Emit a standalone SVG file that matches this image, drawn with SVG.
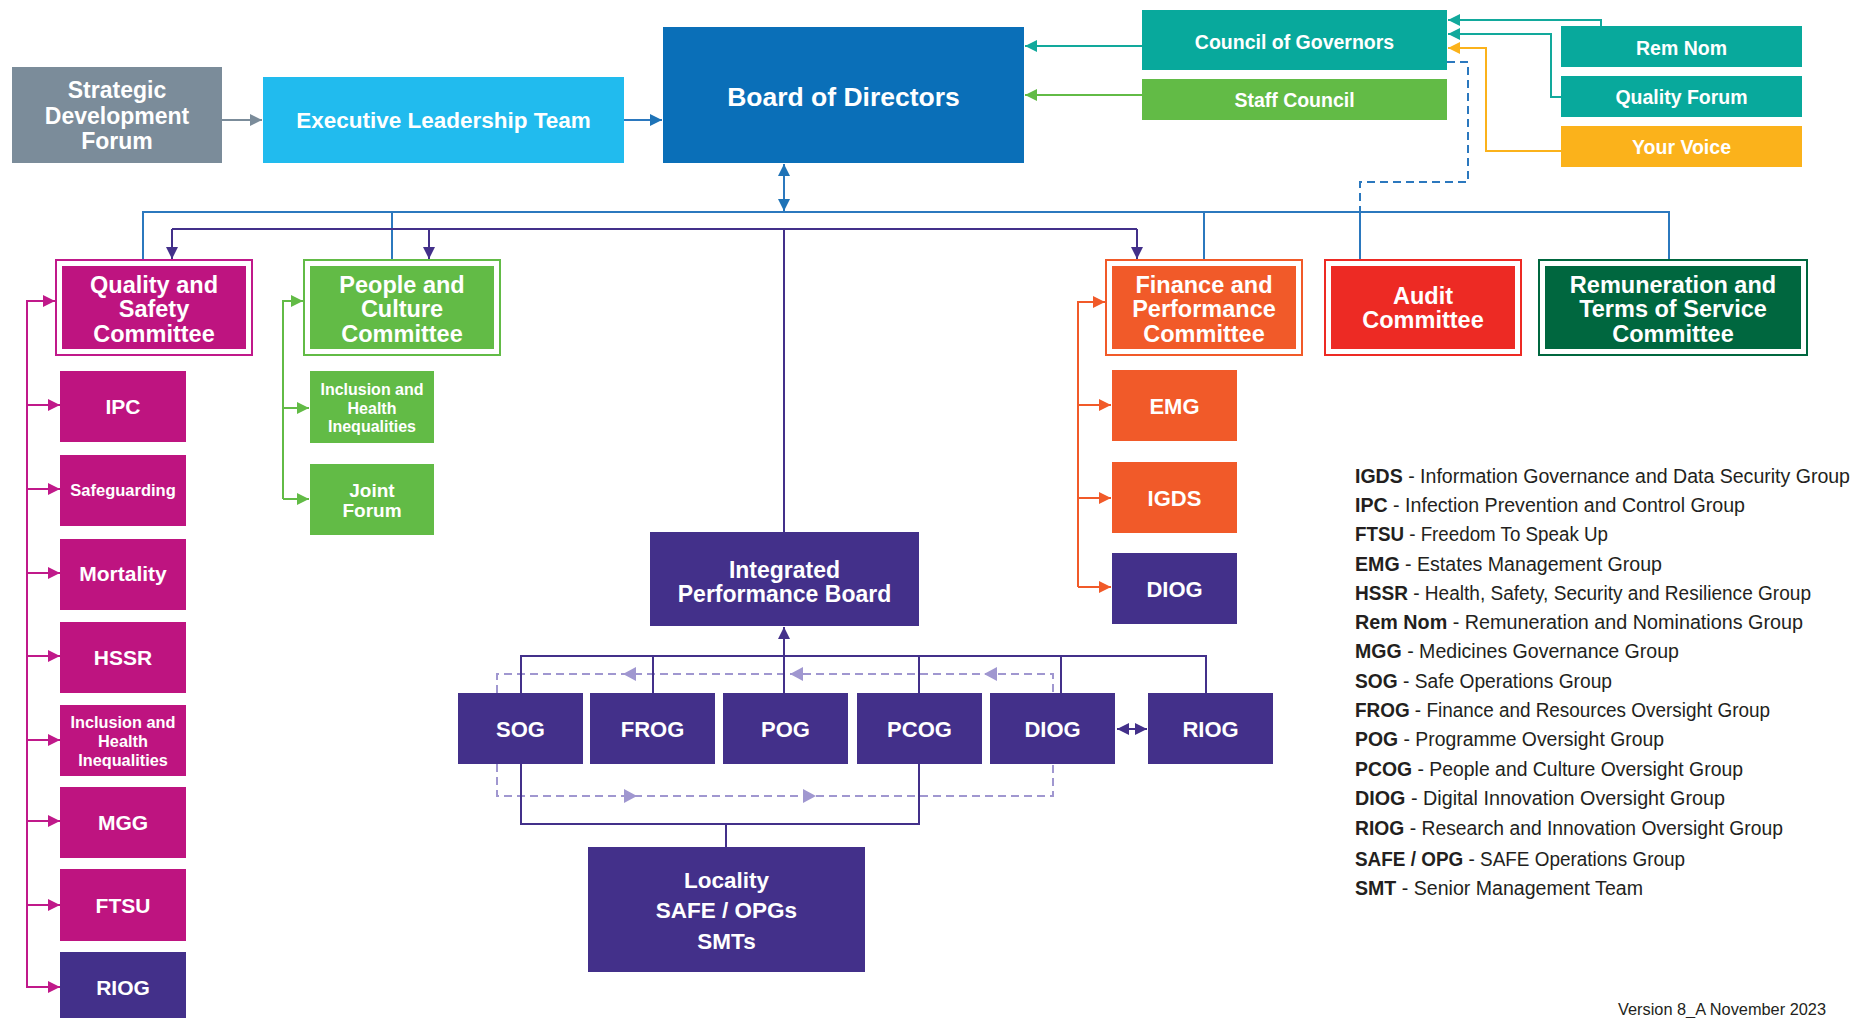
<svg xmlns="http://www.w3.org/2000/svg" width="1854" height="1018" viewBox="0 0 1854 1018">
<defs>
<style>
text{font-family:"Liberation Sans",Arial,sans-serif;}
.t{fill:#fff;font-weight:bold;text-anchor:middle;}
.lg{fill:#231f20;font-size:19.5px;}
.b{font-weight:bold;}
.ln{fill:none;stroke-width:2;}
.gray{stroke:#7b8c9a;}
.blue{stroke:#2b78be;}
.teal{stroke:#12a99c;}
.grn{stroke:#62bb46;}
.yel{stroke:#fbb21b;}
.mag{stroke:#c0198a;}
.org{stroke:#f15a29;}
.pur{stroke:#43308a;}
.dash{stroke:#a097d0;stroke-dasharray:8 5;}
.bdash{stroke:#2b78be;stroke-dasharray:8 5;}
</style>
<marker id="a-gray" viewBox="0 0 10 10" refX="10" refY="5" markerWidth="12" markerHeight="12" markerUnits="userSpaceOnUse" orient="auto-start-reverse"><path d="M0,0L10,5L0,10z" fill="#7b8c9a"/></marker>
<marker id="a-blue" viewBox="0 0 10 10" refX="10" refY="5" markerWidth="12" markerHeight="12" markerUnits="userSpaceOnUse" orient="auto-start-reverse"><path d="M0,0L10,5L0,10z" fill="#1f73b7"/></marker>
<marker id="a-teal" viewBox="0 0 10 10" refX="10" refY="5" markerWidth="12" markerHeight="12" markerUnits="userSpaceOnUse" orient="auto-start-reverse"><path d="M0,0L10,5L0,10z" fill="#12a99c"/></marker>
<marker id="a-grn" viewBox="0 0 10 10" refX="10" refY="5" markerWidth="12" markerHeight="12" markerUnits="userSpaceOnUse" orient="auto-start-reverse"><path d="M0,0L10,5L0,10z" fill="#62bb46"/></marker>
<marker id="a-yel" viewBox="0 0 10 10" refX="10" refY="5" markerWidth="12" markerHeight="12" markerUnits="userSpaceOnUse" orient="auto-start-reverse"><path d="M0,0L10,5L0,10z" fill="#fbb21b"/></marker>
<marker id="a-mag" viewBox="0 0 10 10" refX="10" refY="5" markerWidth="12" markerHeight="12" markerUnits="userSpaceOnUse" orient="auto-start-reverse"><path d="M0,0L10,5L0,10z" fill="#c0198a"/></marker>
<marker id="a-org" viewBox="0 0 10 10" refX="10" refY="5" markerWidth="12" markerHeight="12" markerUnits="userSpaceOnUse" orient="auto-start-reverse"><path d="M0,0L10,5L0,10z" fill="#f15a29"/></marker>
<marker id="a-pur" viewBox="0 0 10 10" refX="10" refY="5" markerWidth="12" markerHeight="12" markerUnits="userSpaceOnUse" orient="auto-start-reverse"><path d="M0,0L10,5L0,10z" fill="#43308a"/></marker>
</defs>
<rect width="1854" height="1018" fill="#fff"/>

<g id="connectors">
  <path class="ln gray" d="M222,120H262" marker-end="url(#a-gray)"/>
  <path class="ln blue" d="M624,120H662" marker-end="url(#a-blue)"/>
  <path class="ln teal" d="M1142,46H1025" marker-end="url(#a-teal)"/>
  <path class="ln grn" d="M1142,95H1025" marker-end="url(#a-grn)"/>
  <path class="ln teal" d="M1601,26V20H1448" marker-end="url(#a-teal)"/>
  <path class="ln teal" d="M1561,97H1551V34H1448" marker-end="url(#a-teal)"/>
  <path class="ln yel" d="M1561,151H1486V48H1448" marker-end="url(#a-yel)"/>
  <path class="ln bdash" d="M1447,62H1468V182H1360V212"/>
  <path class="ln blue" d="M143,260V212H1669V260M392,212V260M1204,212V260M1360,212V260"/>
  <path class="ln blue" d="M784,164V211" marker-start="url(#a-blue)" marker-end="url(#a-blue)"/>
  <path class="ln pur" d="M172,229H1137M784,229V532"/>
  <path class="ln pur" d="M172,229V259" marker-end="url(#a-pur)"/>
  <path class="ln pur" d="M429,229V259" marker-end="url(#a-pur)"/>
  <path class="ln pur" d="M1137,229V259" marker-end="url(#a-pur)"/>
  <path class="ln mag" d="M27,988V301H55" marker-end="url(#a-mag)"/>
  <path class="ln mag" d="M27,405H60" marker-end="url(#a-mag)"/>
  <path class="ln mag" d="M27,489H60" marker-end="url(#a-mag)"/>
  <path class="ln mag" d="M27,573H60" marker-end="url(#a-mag)"/>
  <path class="ln mag" d="M27,656H60" marker-end="url(#a-mag)"/>
  <path class="ln mag" d="M27,740H60" marker-end="url(#a-mag)"/>
  <path class="ln mag" d="M27,821H60" marker-end="url(#a-mag)"/>
  <path class="ln mag" d="M27,905H60" marker-end="url(#a-mag)"/>
  <path class="ln mag" d="M27,987H60" marker-end="url(#a-mag)"/>
  <path class="ln grn" d="M283,499V301H303" marker-end="url(#a-grn)"/>
  <path class="ln grn" d="M283,408H309" marker-end="url(#a-grn)"/>
  <path class="ln grn" d="M283,499H309" marker-end="url(#a-grn)"/>
  <path class="ln org" d="M1078,587V302H1105" marker-end="url(#a-org)"/>
  <path class="ln org" d="M1078,405H1111" marker-end="url(#a-org)"/>
  <path class="ln org" d="M1078,498H1111" marker-end="url(#a-org)"/>
  <path class="ln org" d="M1078,587H1111" marker-end="url(#a-org)"/>
  <path class="ln dash" d="M497,693V674H1053V693"/>
  <path class="ln dash" d="M497,764V796H1053V764"/>
  <g fill="#a097d0">
    <polygon points="623,674 636,667 636,681"/>
    <polygon points="790,674 803,667 803,681"/>
    <polygon points="984,674 997,667 997,681"/>
    <polygon points="637,796 624,789 624,803"/>
    <polygon points="816,796 803,789 803,803"/>
  </g>
  <path class="ln pur" d="M521,693V656H1206V693M653,693V656M919,693V656M1061,693V656"/>
  <path class="ln pur" d="M784,693V627" marker-end="url(#a-pur)"/>
  <path class="ln pur" d="M521,764V824H919V764M726,824V847"/>
  <path class="ln pur" d="M1117,729H1147" marker-start="url(#a-pur)" marker-end="url(#a-pur)"/>
</g>

<g id="strategic-development-forum">
  <rect x="12" y="67" width="210" height="96" fill="#7b8c9a"/>
  <text class="t" font-size="23" x="117" y="98">Strategic</text>
  <text class="t" font-size="23" x="117" y="124">Development</text>
  <text class="t" font-size="23" x="117" y="149">Forum</text>
</g>
<g id="executive-leadership-team">
  <rect x="263" y="77" width="361" height="86" fill="#21bbee"/>
  <text class="t" font-size="22.5" x="443.5" y="128">Executive Leadership Team</text>
</g>
<g id="board-of-directors">
  <rect x="663" y="27" width="361" height="136" fill="#0a6fb8"/>
  <text class="t" font-size="26.5" x="843.5" y="105.5">Board of Directors</text>
</g>
<g id="council-of-governors">
  <rect x="1142" y="10" width="305" height="60" fill="#08a99c"/>
  <text class="t" font-size="19.5" x="1294.5" y="49">Council of Governors</text>
</g>
<g id="staff-council">
  <rect x="1142" y="79" width="305" height="41" fill="#62bb46"/>
  <text class="t" font-size="19.5" x="1294.5" y="106.5">Staff Council</text>
</g>
<g id="rem-nom">
  <rect x="1561" y="26" width="241" height="41" fill="#08a99c"/>
  <text class="t" font-size="19.5" x="1681.5" y="54.5">Rem Nom</text>
</g>
<g id="quality-forum">
  <rect x="1561" y="76" width="241" height="41" fill="#08a99c"/>
  <text class="t" font-size="19.5" x="1681.5" y="104">Quality Forum</text>
</g>
<g id="your-voice">
  <rect x="1561" y="126" width="241" height="41" fill="#fbb21b"/>
  <text class="t" font-size="19.5" x="1681.5" y="154">Your Voice</text>
</g>

<g id="quality-and-safety-committee">
  <rect x="56" y="260" width="196" height="95" fill="#fff" stroke="#c0198a" stroke-width="2"/>
  <rect x="62" y="266" width="184" height="83" fill="#be1480"/>
  <text class="t" font-size="23.5" x="154" y="292.5">Quality and</text>
  <text class="t" font-size="23.5" x="154" y="317">Safety</text>
  <text class="t" font-size="23.5" x="154" y="341.5">Committee</text>
</g>
<g id="people-and-culture-committee">
  <rect x="304" y="260" width="196" height="95" fill="#fff" stroke="#62bb46" stroke-width="2"/>
  <rect x="310" y="266" width="184" height="83" fill="#62bb46"/>
  <text class="t" font-size="23.5" x="402" y="292.5">People and</text>
  <text class="t" font-size="23.5" x="402" y="317">Culture</text>
  <text class="t" font-size="23.5" x="402" y="341.5">Committee</text>
</g>
<g id="finance-and-performance-committee">
  <rect x="1106" y="260" width="196" height="95" fill="#fff" stroke="#f15a29" stroke-width="2"/>
  <rect x="1112" y="266" width="184" height="83" fill="#f15a29"/>
  <text class="t" font-size="23.5" x="1204" y="292.5">Finance and</text>
  <text class="t" font-size="23.5" x="1204" y="317">Performance</text>
  <text class="t" font-size="23.5" x="1204" y="341.5">Committee</text>
</g>
<g id="audit-committee">
  <rect x="1325" y="260" width="196" height="95" fill="#fff" stroke="#ed2a24" stroke-width="2"/>
  <rect x="1331" y="266" width="184" height="83" fill="#ed2a24"/>
  <text class="t" font-size="23.5" x="1423" y="303.5">Audit</text>
  <text class="t" font-size="23.5" x="1423" y="328">Committee</text>
</g>
<g id="remuneration-committee">
  <rect x="1539" y="260" width="268" height="95" fill="#fff" stroke="#00673f" stroke-width="2"/>
  <rect x="1545" y="266" width="256" height="83" fill="#00673f"/>
  <text class="t" font-size="23.5" x="1673" y="292.5">Remuneration and</text>
  <text class="t" font-size="23.5" x="1673" y="317">Terms of Service</text>
  <text class="t" font-size="23.5" x="1673" y="341.5">Committee</text>
</g>

<g id="qsc-ipc"><rect x="60" y="371" width="126" height="71" fill="#be1480"/><text class="t" font-size="21" x="123" y="414">IPC</text></g>
<g id="qsc-safeguarding"><rect x="60" y="455" width="126" height="71" fill="#be1480"/><text class="t" font-size="16.5" x="123" y="496">Safeguarding</text></g>
<g id="qsc-mortality"><rect x="60" y="539" width="126" height="71" fill="#be1480"/><text class="t" font-size="21" x="123" y="581">Mortality</text></g>
<g id="qsc-hssr"><rect x="60" y="622" width="126" height="71" fill="#be1480"/><text class="t" font-size="21" x="123" y="664.5">HSSR</text></g>
<g id="qsc-inclusion"><rect x="60" y="705" width="126" height="71" fill="#be1480"/>
  <text class="t" font-size="16.3" x="123" y="728">Inclusion and</text>
  <text class="t" font-size="16.3" x="123" y="747">Health</text>
  <text class="t" font-size="16.3" x="123" y="766">Inequalities</text></g>
<g id="qsc-mgg"><rect x="60" y="787" width="126" height="71" fill="#be1480"/><text class="t" font-size="21" x="123" y="829.5">MGG</text></g>
<g id="qsc-ftsu"><rect x="60" y="869" width="126" height="72" fill="#be1480"/><text class="t" font-size="21" x="123" y="912.5">FTSU</text></g>
<g id="qsc-riog"><rect x="60" y="952" width="126" height="72" fill="#43308a"/><text class="t" font-size="21" x="123" y="995">RIOG</text></g>

<g id="pcc-inclusion"><rect x="310" y="371" width="124" height="72" fill="#62bb46"/>
  <text class="t" font-size="16" x="372" y="395">Inclusion and</text>
  <text class="t" font-size="16" x="372" y="414">Health</text>
  <text class="t" font-size="16" x="372" y="432">Inequalities</text></g>
<g id="pcc-joint-forum"><rect x="310" y="464" width="124" height="71" fill="#62bb46"/>
  <text class="t" font-size="19" x="372" y="497">Joint</text>
  <text class="t" font-size="19" x="372" y="517">Forum</text></g>

<g id="fpc-emg"><rect x="1112" y="370" width="125" height="71" fill="#f15a29"/><text class="t" font-size="22" x="1174.5" y="413.5">EMG</text></g>
<g id="fpc-igds"><rect x="1112" y="462" width="125" height="71" fill="#f15a29"/><text class="t" font-size="22" x="1174.5" y="505.5">IGDS</text></g>
<g id="fpc-diog"><rect x="1112" y="553" width="125" height="71" fill="#43308a"/><text class="t" font-size="22" x="1174.5" y="596.5">DIOG</text></g>

<g id="integrated-performance-board"><rect x="650" y="532" width="269" height="94" fill="#43308a"/>
  <text class="t" font-size="23" x="784.5" y="578">Integrated</text>
  <text class="t" font-size="23" x="784.5" y="602">Performance Board</text></g>

<g id="sog"><rect x="458" y="693" width="125" height="71" fill="#43308a"/><text class="t" font-size="22" x="520.5" y="737">SOG</text></g>
<g id="frog"><rect x="590" y="693" width="125" height="71" fill="#43308a"/><text class="t" font-size="22" x="652.5" y="737">FROG</text></g>
<g id="pog"><rect x="723" y="693" width="125" height="71" fill="#43308a"/><text class="t" font-size="22" x="785.5" y="737">POG</text></g>
<g id="pcog"><rect x="857" y="693" width="125" height="71" fill="#43308a"/><text class="t" font-size="22" x="919.5" y="737">PCOG</text></g>
<g id="diog"><rect x="990" y="693" width="125" height="71" fill="#43308a"/><text class="t" font-size="22" x="1052.5" y="737">DIOG</text></g>
<g id="riog"><rect x="1148" y="693" width="125" height="71" fill="#43308a"/><text class="t" font-size="22" x="1210.5" y="737">RIOG</text></g>

<g id="locality"><rect x="588" y="847" width="277" height="125" fill="#43308a"/>
  <text class="t" font-size="22.5" x="726.5" y="888">Locality</text>
  <text class="t" font-size="22.5" x="726.5" y="918">SAFE / OPGs</text>
  <text class="t" font-size="22.5" x="726.5" y="949">SMTs</text></g>

<g id="legend" class="lg">
  <text x="1355" y="483" textLength="495" lengthAdjust="spacingAndGlyphs"><tspan class="b">IGDS</tspan> - Information Governance and Data Security Group</text>
  <text x="1355" y="512" textLength="390" lengthAdjust="spacingAndGlyphs"><tspan class="b">IPC</tspan> - Infection Prevention and Control Group</text>
  <text x="1355" y="541" textLength="253" lengthAdjust="spacingAndGlyphs"><tspan class="b">FTSU</tspan> - Freedom To Speak Up</text>
  <text x="1355" y="571" textLength="307" lengthAdjust="spacingAndGlyphs"><tspan class="b">EMG</tspan> - Estates Management Group</text>
  <text x="1355" y="600" textLength="456" lengthAdjust="spacingAndGlyphs"><tspan class="b">HSSR</tspan> - Health, Safety, Security and Resilience Group</text>
  <text x="1355" y="629" textLength="448" lengthAdjust="spacingAndGlyphs"><tspan class="b">Rem Nom</tspan> - Remuneration and Nominations Group</text>
  <text x="1355" y="658" textLength="324" lengthAdjust="spacingAndGlyphs"><tspan class="b">MGG</tspan> - Medicines Governance Group</text>
  <text x="1355" y="688" textLength="257" lengthAdjust="spacingAndGlyphs"><tspan class="b">SOG</tspan> - Safe Operations Group</text>
  <text x="1355" y="717" textLength="415" lengthAdjust="spacingAndGlyphs"><tspan class="b">FROG</tspan> - Finance and Resources Oversight Group</text>
  <text x="1355" y="746" textLength="309" lengthAdjust="spacingAndGlyphs"><tspan class="b">POG</tspan> - Programme Oversight Group</text>
  <text x="1355" y="776" textLength="388" lengthAdjust="spacingAndGlyphs"><tspan class="b">PCOG</tspan> - People and Culture Oversight Group</text>
  <text x="1355" y="805" textLength="370" lengthAdjust="spacingAndGlyphs"><tspan class="b">DIOG</tspan> - Digital Innovation Oversight Group</text>
  <text x="1355" y="835" textLength="428" lengthAdjust="spacingAndGlyphs"><tspan class="b">RIOG</tspan> - Research and Innovation Oversight Group</text>
  <text x="1355" y="866" textLength="330" lengthAdjust="spacingAndGlyphs"><tspan class="b">SAFE / OPG</tspan> - SAFE Operations Group</text>
  <text x="1355" y="895" textLength="288" lengthAdjust="spacingAndGlyphs"><tspan class="b">SMT</tspan> - Senior Management Team</text>
</g>
<text x="1618" y="1015" font-size="16" fill="#231f20" textLength="208" lengthAdjust="spacingAndGlyphs">Version 8_A November 2023</text>
</svg>
